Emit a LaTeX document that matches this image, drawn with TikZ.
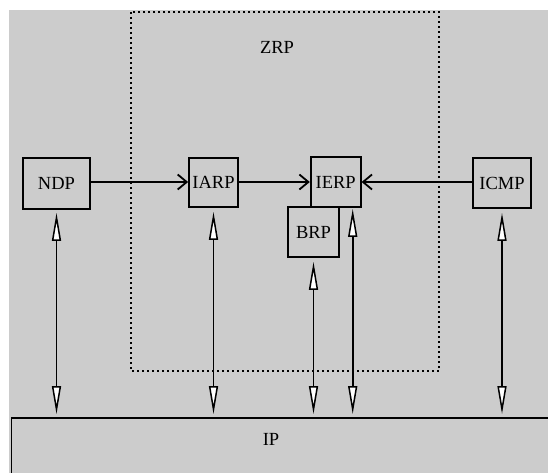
\documentclass[tikz,border=0pt]{standalone}
\usepackage{fontspec}
\setmainfont{Liberation Serif}
\usetikzlibrary{arrows.meta}
\definecolor{bg}{HTML}{CCCCCC}
\begin{document}
\begin{tikzpicture}[x=1pt,y=-1pt,
  box/.style={draw, line width=1.8pt, fill=bg, inner sep=0pt, font=\fontsize{18.5}{21}\selectfont},
  flow/.style={line width=1.8pt, -{Straight Barb[length=9pt,width=15pt,line width=1.8pt]}},
  dbl/.style={line width=1.8pt, {Triangle[length=28pt,width=9pt,fill=white,line width=1.5pt]}-{Triangle[length=28pt,width=9pt,fill=white,line width=1.5pt]}},
  lbl/.style={font=\fontsize{18.5}{21}\selectfont, inner sep=0pt}]
\useasboundingbox (0,0) rectangle (548,473);
\fill[bg] (9,10) rectangle (548,473);
% ZRP dotted region
\draw[line width=2pt, dash pattern=on 2pt off 3pt] (131,12) rectangle (439,371);
\node[lbl] (zrp) at (277,47) {ZRP};
% IP box
\node[box, anchor=north west, minimum width=545pt, minimum height=70pt] (ip) at (10.5,417) {};
\node[lbl] (iplbl) at (271,439) {IP};
% protocol boxes
\node[box, minimum width=67pt, minimum height=51pt] (ndp) at (56.5,183.5) {NDP};
\node[box, minimum width=49pt, minimum height=49pt] (iarp) at (213.5,182.5) {IARP};
\node[box, minimum width=50pt, minimum height=50pt] (ierp) at (335.7,182) {IERP};
\node[box, minimum width=51pt, minimum height=50pt] (brp) at (313.5,232) {BRP};
\node[box, minimum width=58pt, minimum height=50pt] (icmp) at (502,183) {ICMP};
% horizontal flows
\draw[flow] (ndp.east |- 0,182) -- (iarp.west |- 0,182);
\draw[flow] (iarp.east |- 0,182) -- (ierp.west |- 0,182);
\draw[flow] (icmp.west |- 0,182) -- (ierp.east |- 0,182);
% vertical links to IP
\coordinate (ndpT) at ([yshift=-3pt]ndp.south);
\coordinate (iarpT) at ([yshift=-4pt]iarp.south);
\coordinate (brpT) at ([yshift=-4pt]brp.south);
\coordinate (ierpT) at ([xshift=17pt,yshift=-1pt]ierp.south);
\coordinate (icmpT) at ([yshift=-4pt]icmp.south);
\foreach \c in {ndpT,iarpT,brpT,ierpT,icmpT}{
  \coordinate (\c B) at (\c |- ip.north);
  \draw[dbl] (\c) -- ([yshift=3pt]\c B);
}
\end{tikzpicture}
\end{document}
